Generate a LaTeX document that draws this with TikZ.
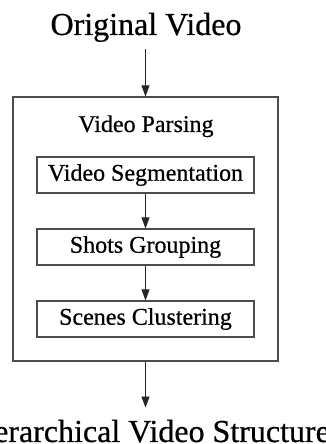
\documentclass[tikz,border=0pt]{standalone}
\usepackage{fontspec}
\setmainfont{Liberation Serif}[FakeBold=0.6]
\usetikzlibrary{arrows.meta}
\begin{document}
\begin{tikzpicture}[x=1pt,y=1pt,
  frame/.style={draw=black!70,line width=1.1pt,inner sep=0pt},
  stagebox/.style={frame,minimum width=217pt,minimum height=36pt,font=\fontsize{24}{27}\selectfont},
  bigtext/.style={inner sep=0pt,font=\fontsize{32}{36}\selectfont},
  arr/.style={draw=black!85,line width=0.8pt,-{Triangle[length=11pt,width=8pt]}}]
\useasboundingbox (0,0) rectangle (326,444);
% input and output labels
\node[bigtext,anchor=base] (orig) at (146,409) {Original Video};
\node[bigtext,anchor=base] (hier) at (146,2) {Hierarchical Video Structure};
% enclosing parsing block
\node[frame,minimum width=265pt,minimum height=264pt] (outer) at (145.5,215) {};
\node[anchor=base,inner sep=0pt,font=\fontsize{24}{27}\selectfont] (title) at (146,312) {Video Parsing};
% processing stages
\node[stagebox] (seg) at (145.5,269) {Video Segmentation};
\node[stagebox] (grp) at (145.5,197) {Shots Grouping};
\node[stagebox] (clu) at (145.5,125) {Scenes Clustering};
% flow
\draw[arr,shorten <=7pt] (orig.south -| outer.north) -- (outer.north);
\draw[arr] (seg) -- (grp);
\draw[arr] (grp) -- (clu);
\draw[arr,shorten >=12pt] (outer.south) -- (outer.south |- hier.north);
\end{tikzpicture}
\end{document}
